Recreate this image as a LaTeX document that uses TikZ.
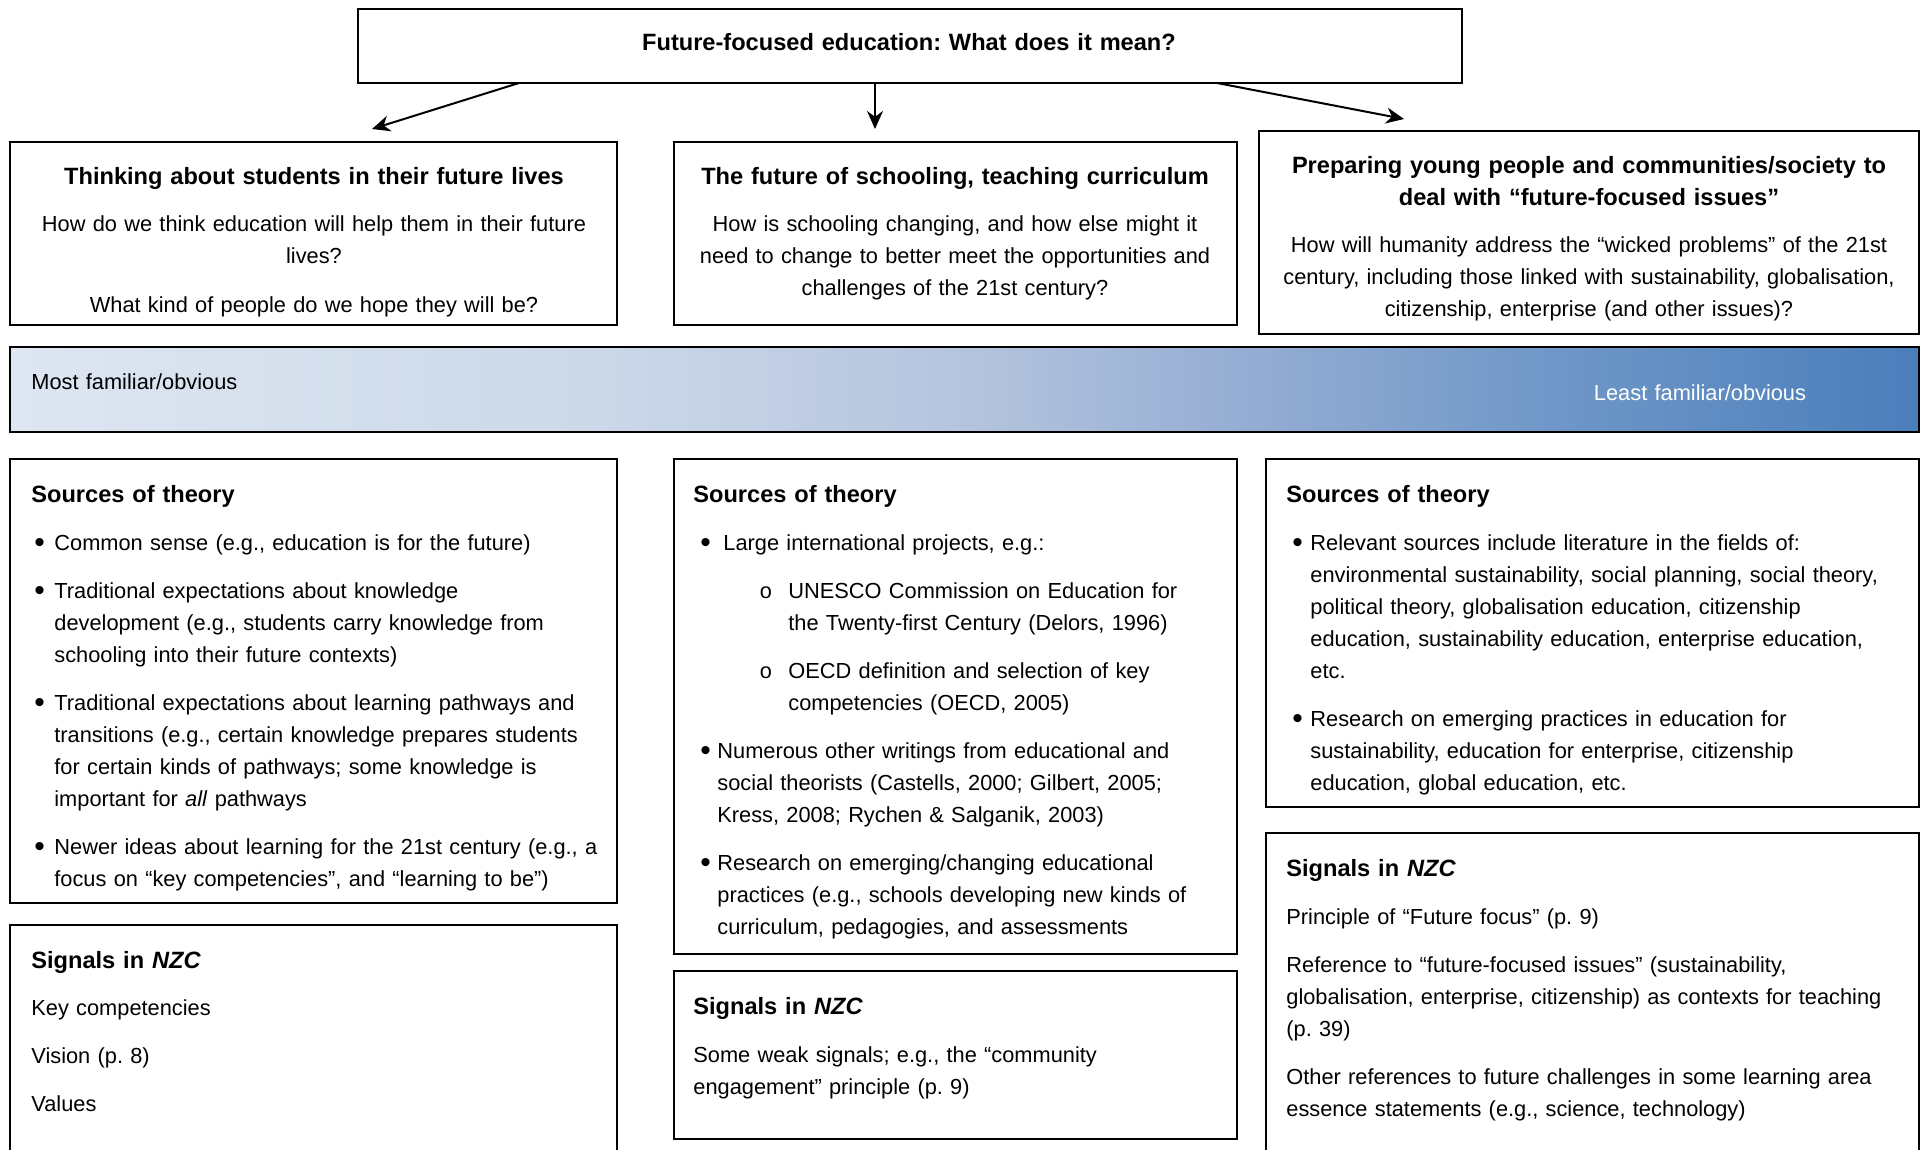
\documentclass[tikz,border=0pt]{standalone}
\usepackage{fontspec}
\setmainfont{Liberation Sans}
\newfontfamily\ringfont{Liberation Mono}
\usetikzlibrary{arrows.meta,fit}
\frenchspacing

\pgfdeclarehorizontalshading{famshade}{100bp}{rgb(0bp)=(0.867,0.902,0.945); rgb(25bp)=(0.867,0.902,0.945); rgb(40bp)=(0.804,0.851,0.914); rgb(50bp)=(0.71,0.769,0.871); rgb(57.5bp)=(0.58,0.678,0.827); rgb(65bp)=(0.443,0.596,0.784); rgb(75bp)=(0.29,0.494,0.733); rgb(100bp)=(0.29,0.494,0.733)}

\tikzset{
  box/.style={draw,line width=1.2pt,inner sep=0pt,fill=white},
  arr/.style={line width=1pt,-{Stealth[length=9pt,width=8pt]}},
  body/.style={anchor=base west,inner sep=0pt,text width=330pt,align=left,font=\fontsize{10.9}{16}\selectfont},
  head/.style={body,font=\fontsize{11.8}{16}\selectfont\bfseries},
  mid/.style={anchor=base,inner sep=0pt,text width=330pt,align=center,font=\fontsize{10.9}{16}\selectfont},
  midhead/.style={mid,font=\fontsize{11.8}{16}\selectfont\bfseries},
  dot/.style={anchor=base west,inner sep=0pt,yshift=-1.2pt,font=\fontsize{15}{16}\selectfont},
  ring/.style={anchor=base west,inner sep=0pt,font=\fontsize{10.9}{16}\ringfont}
}

\begin{document}
\begin{tikzpicture}[x=0.5pt,y=-0.5pt]

	\clip (0,0) rectangle (1921,1150);

	%boxes
	\node[box,fit={(358,9) (1462,83)}] (top) {};
	\node[box,fit={(10,142) (617,325)}] (boxA) {};
	\node[box,fit={(674,142) (1237,325)}] (boxB) {};
	\node[box,fit={(1259,131) (1919,334)}] (boxC) {};
	\node[box,shade,shading=famshade,fit={(10,347) (1919,432)}] (band) {};
	\node[box,fit={(10,459) (617,903)}] (srcA) {};
	\node[box,fit={(10,925) (617,1170)}] (sigA) {};
	\node[box,fit={(674,459) (1237,954)}] (srcB) {};
	\node[box,fit={(674,971) (1237,1139)}] (sigB) {};
	\node[box,fit={(1266,459) (1919,807)}] (srcC) {};
	\node[box,fit={(1266,833) (1919,1170)}] (sigC) {};

	%arrows
	\coordinate (outA) at (519,83); \coordinate (inA) at (372,129);
	\coordinate (outB) at (875,83); \coordinate (inB) at (875,129);
	\coordinate (outC) at (1217,83); \coordinate (inC) at (1404,119);
	\draw[arr] (outA) -- (inA); %to A
	\draw[arr] (outB) -- (inB); %to B
	\draw[arr] (outC) -- (inC); %to C

	%top row
	\node[midhead] (title) at (909,51) {Future-focused education: What does it mean?};
	\node[midhead] (headA) at (314,185) {Thinking about students in their future lives};
	\node[mid] (askA) at (314,232) {How do we think education will help them in their future\\lives?};
	\begin{scope}
	\clip (10,142) rectangle (617,316); %text cut by the box
	\node[mid] (hopeA) at (314,312) {What kind of people do we hope they will be?};
	\end{scope}
	\node[midhead] (headB) at (955,185) {The future of schooling, teaching curriculum};
	\node[mid] (askB) at (955,232) {How is schooling changing, and how else might it\\need to change to better meet the opportunities and\\challenges of the 21st century?};
	\node[midhead] (headC) at (1589,174) {Preparing young people and communities/society to\\deal with “future-focused issues”};
	\node[mid] (askC) at (1589,253) {How will humanity address the “wicked problems” of the 21st\\century, including those linked with sustainability, globalisation,\\citizenship, enterprise (and other issues)?};

	%band labels
	\node[body] (most) at (31,389) {Most familiar/obvious};
	\node[mid,text=white] (least) at (1700,400) {Least familiar/obvious};

	%column A
	\node[head] (srcAh) at (31,502) {Sources of theory};
	\node[dot] (dA1) at (34,550) {•};
	\node[body] (pA1) at (54,550) {Common sense (e.g., education is for the future)};
	\node[dot] (dA2) at (34,598) {•};
	\node[body] (pA2) at (54,598) {Traditional expectations about knowledge\\development (e.g., students carry knowledge from\\schooling into their future contexts)};
	\node[dot] (dA3) at (34,710) {•};
	\node[body] (pA3) at (54,710) {Traditional expectations about learning pathways and\\transitions (e.g., certain knowledge prepares students\\for certain kinds of pathways; some knowledge is\\important for \textit{all} pathways};
	\node[dot] (dA4) at (34,854) {•};
	\node[body] (pA4) at (54,854) {Newer ideas about learning for the 21st century (e.g., a\\focus on “key competencies”, and “learning to be”)};
	\node[head] (sigAh) at (31,968) {Signals in \textit{NZC}};
	\node[body] (gA1) at (31,1015) {Key competencies};
	\node[body] (gA2) at (31,1063) {Vision (p. 8)};
	\node[body] (gA3) at (31,1111) {Values};

	%column B
	\node[head] (srcBh) at (693,502) {Sources of theory};
	\node[dot] (dB1) at (700,550) {•};
	\node[body] (pB1) at (723,550) {Large international projects, e.g.:};
	\node[ring] (oB1) at (759,598) {o};
	\node[body] (qB1) at (788,598) {UNESCO Commission on Education for\\the Twenty-first Century (Delors, 1996)};
	\node[ring] (oB2) at (759,678) {o};
	\node[body] (qB2) at (788,678) {OECD definition and selection of key\\competencies (OECD, 2005)};
	\node[dot] (dB2) at (700,758) {•};
	\node[body] (pB2) at (717,758) {Numerous other writings from educational and\\social theorists (Castells, 2000; Gilbert, 2005;\\Kress, 2008; Rychen \& Salganik, 2003)};
	\node[dot] (dB3) at (700,870) {•};
	\node[body] (pB3) at (717,870) {Research on emerging/changing educational\\practices (e.g., schools developing new kinds of\\curriculum, pedagogies, and assessments};
	\node[head] (sigBh) at (693,1014) {Signals in \textit{NZC}};
	\node[body] (gB1) at (693,1062) {Some weak signals; e.g., the “community\\engagement” principle (p. 9)};

	%column C
	\node[head] (srcCh) at (1286,502) {Sources of theory};
	\node[dot] (dC1) at (1292,550) {•};
	\node[body] (pC1) at (1310,550) {Relevant sources include literature in the fields of:\\environmental sustainability, social planning, social theory,\\political theory, globalisation education, citizenship\\education, sustainability education, enterprise education,\\etc.};
	\node[dot] (dC2) at (1292,726) {•};
	\node[body] (pC2) at (1310,726) {Research on emerging practices in education for\\sustainability, education for enterprise, citizenship\\education, global education, etc.};
	\node[head] (sigCh) at (1286,876) {Signals in \textit{NZC}};
	\node[body] (gC1) at (1286,924) {Principle of “Future focus” (p. 9)};
	\node[body] (gC2) at (1286,972) {Reference to “future-focused issues” (sustainability,\\globalisation, enterprise, citizenship) as contexts for teaching\\(p. 39)};
	\node[body] (gC3) at (1286,1084) {Other references to future challenges in some learning area\\essence statements (e.g., science, technology)};
\end{tikzpicture}
\end{document}
